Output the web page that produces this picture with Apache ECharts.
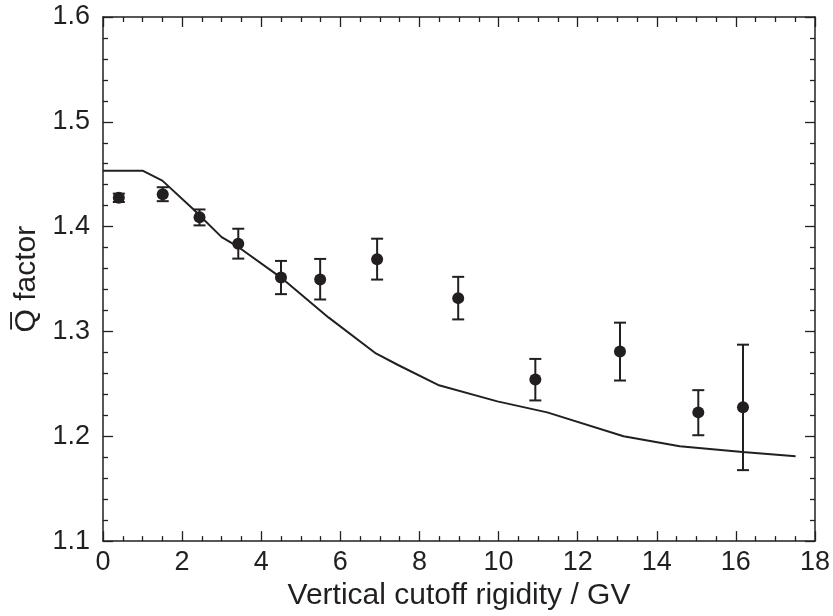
<!DOCTYPE html>
<html>
<head>
    <meta charset="UTF-8">
    <script type="text/javascript" src="https://cdn.jsdelivr.net/npm/echarts@6/dist/echarts.min.js"></script>
    <title>Q factor</title>
    <style>
        body { margin: 0; background: #fff; }
        #main { width: 833px; height: 616px; }
    </style>
</head>
<body>
    <div id="main"></div>
    <script type="text/javascript">
    // measured points with error bars
    var rigidity = [0.40, 1.51, 2.44, 3.42, 4.50, 5.49, 6.93, 8.98, 10.93, 13.07, 15.05, 16.18];
    var qValue   = [1.4275, 1.431, 1.409, 1.3837, 1.3514, 1.3495, 1.3688, 1.3318, 1.2542, 1.2808, 1.2228, 1.2276];
    var qLow     = [1.4235, 1.4243, 1.4012, 1.3695, 1.3356, 1.3305, 1.3495, 1.3115, 1.2342, 1.2532, 1.201, 1.1677];
    var qHigh    = [1.4315, 1.4376, 1.4164, 1.398, 1.3673, 1.3692, 1.3885, 1.3521, 1.2738, 1.3084, 1.244, 1.2874];

    // model curve
    var curveX = [0, 1.0, 1.5, 2.27, 3.0, 3.42, 4.5, 5.7, 6.9, 7.46, 8.47, 9.97, 11.23, 13.16, 14.58, 16.17, 17.51];
    var curveY = [1.4534, 1.4534, 1.4439, 1.417, 1.390, 1.3806, 1.3514, 1.3134, 1.279, 1.268, 1.249, 1.2333, 1.2228, 1.2, 1.1905, 1.185, 1.181];

    var ink = '#231f20';
    var font = 'Liberation Sans, Arial, Helvetica, sans-serif';

    var chart = echarts.init(document.getElementById('main'));

    var points = [], bars = [], curve = [];
    for (var i = 0; i < rigidity.length; i++) {
        points.push([rigidity[i], qValue[i]]);
        bars.push([rigidity[i], qLow[i], qHigh[i]]);
    }
    for (var j = 0; j < curveX.length; j++) {
        curve.push([curveX[j], curveY[j]]);
    }

    function xAxisDef(pos, show) {
        return {
            type: 'value', position: pos, min: 0, max: 18, interval: 2,
            name: show ? 'Vertical cutoff rigidity / GV' : '',
            nameLocation: 'middle', nameGap: 37,
            nameTextStyle: { fontSize: 30, color: ink, fontFamily: font },
            axisLine: { show: true, onZero: false, lineStyle: { color: ink, width: 1.5 } },
            axisTick: { show: true, inside: true, length: 10, lineStyle: { color: ink, width: 1.3 } },
            minorTick: { show: true, splitNumber: 4, length: 5, lineStyle: { color: ink, width: 1.3 } },
            axisLabel: { show: show, fontSize: 27, color: ink, fontFamily: font, margin: 8 },
            splitLine: { show: false }
        };
    }
    function yAxisDef(pos, show) {
        return {
            type: 'value', position: pos, min: 1.1, max: 1.6, interval: 0.1,
            name: show ? 'Q\u0305 factor' : '',
            nameLocation: 'middle', nameGap: 60,
            nameTextStyle: { fontSize: 30, color: ink, fontFamily: font },
            axisLine: { show: true, onZero: false, lineStyle: { color: ink, width: 1.5 } },
            axisTick: { show: true, inside: true, length: 10, lineStyle: { color: ink, width: 1.3 } },
            minorTick: { show: true, splitNumber: 5, length: 5, lineStyle: { color: ink, width: 1.3 } },
            axisLabel: { show: show, fontSize: 27, color: ink, fontFamily: font, margin: 13,
                formatter: function (v) { return v.toFixed(1); } },
            splitLine: { show: false }
        };
    }

    var option = {
        animation: false,
        grid: { left: 103, right: 14, top: 17, bottom: 72 },
        xAxis: [xAxisDef('bottom', true), xAxisDef('top', false)],
        yAxis: [yAxisDef('left', true), yAxisDef('right', false)],
        series: [{
            type: 'line',
            data: curve,
            showSymbol: false,
            lineStyle: { color: ink, width: 2 },
            z: 2
        }, {
            type: 'custom',
            data: bars,
            z: 3,
            renderItem: function (params, api) {
                var lo = api.coord([api.value(0), api.value(1)]);
                var hi = api.coord([api.value(0), api.value(2)]);
                var cap = 6;
                var st = { stroke: ink, lineWidth: 2 };
                return {
                    type: 'group',
                    children: [
                        { type: 'line', shape: { x1: lo[0], y1: lo[1], x2: hi[0], y2: hi[1] }, style: st },
                        { type: 'line', shape: { x1: lo[0] - cap, y1: lo[1], x2: lo[0] + cap, y2: lo[1] }, style: st },
                        { type: 'line', shape: { x1: hi[0] - cap, y1: hi[1], x2: hi[0] + cap, y2: hi[1] }, style: st }
                    ]
                };
            }
        }, {
            type: 'scatter',
            data: points,
            symbol: 'circle',
            symbolSize: 12,
            itemStyle: { color: ink, opacity: 1 },
            z: 4
        }]
    };
    chart.setOption(option);
    </script>
</body>
</html>
